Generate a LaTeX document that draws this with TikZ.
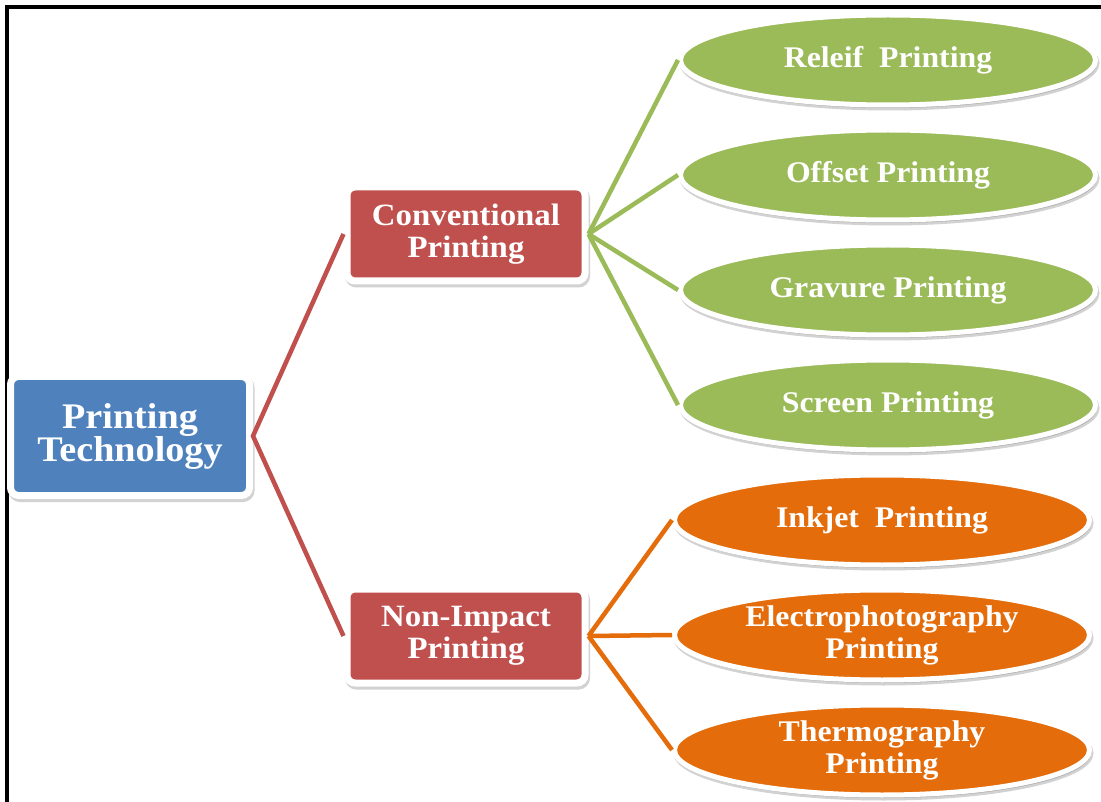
\documentclass[tikz,border=0pt]{standalone}
\usepackage{fontspec}
\setmainfont[FakeStretch=1.06]{Liberation Serif}
\usetikzlibrary{shapes.geometric,shadows}
\definecolor{cblue}{HTML}{4F81BD}
\definecolor{cred}{HTML}{C0504D}
\definecolor{cgreen}{HTML}{9BBB59}
\definecolor{corange}{HTML}{E46C0A}
\begin{document}
\begin{tikzpicture}[x=1pt,y=-1pt,
  softshadow/.style={drop shadow={shadow xshift=1.5pt, shadow yshift=-3pt, opacity=0.25, fill=black!70, draw=black!70, line width=#1}},
  boxnode/.style={rectangle, draw=white, line width=7pt, rounded corners=8pt, text=white,
    font=\bfseries\fontsize{31}{32}\selectfont, align=center, inner sep=0pt,
    minimum width=238pt, minimum height=94pt, softshadow=7pt},
  ellnode/.style={ellipse, draw=white, line width=5pt, text=white,
    font=\bfseries\fontsize{30}{32}\selectfont, align=center, inner sep=0pt,
    minimum width=415pt, minimum height=90pt, softshadow=5pt},
  link/.style={line width=4.5pt}
]
\useasboundingbox (0,0) rectangle (1101,802);
\fill[white] (0,0) rectangle (1101,802);
\draw[line width=3.5pt, line cap=rect] (7,802) -- (7,7) -- (1101,7);

\node[boxnode, fill=cblue, minimum width=239pt, minimum height=119pt,
  font=\bfseries\fontsize{36}{33}\selectfont] (pt) at (130,436) {Printing\\Technology};
\node[boxnode, fill=cred] (conv) at (466,234) {Conventional\\Printing};
\node[boxnode, fill=cred] (nonimp) at (466,636) {Non-Impact\\Printing};

\node[ellnode, fill=cgreen] (rel) at (888,60) {Releif\ \ Printing};
\node[ellnode, fill=cgreen] (off) at (888,175) {Offset Printing};
\node[ellnode, fill=cgreen] (grav) at (888,290) {Gravure Printing};
\node[ellnode, fill=cgreen] (scr) at (888,405) {Screen Printing};

\node[ellnode, fill=corange] (ink) at (882,520) {Inkjet\ \ Printing};
\node[ellnode, fill=corange] (elec) at (882,635) {Electrophotography\\Printing};
\node[ellnode, fill=corange] (therm) at (882,750) {Thermography\\Printing};

\draw[link, cred] (conv.west) -- (pt.east) -- (nonimp.west);
\foreach \t in {rel,off,grav,scr}
  \draw[link, cgreen] (conv.east) -- (\t.west);
\foreach \t in {ink,elec,therm}
  \draw[link, corange] (nonimp.east) -- (\t.west);
\end{tikzpicture}
\end{document}
